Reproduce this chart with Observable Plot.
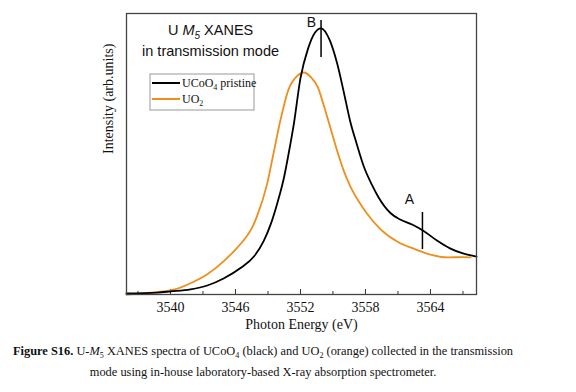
<!DOCTYPE html>
<html><head><meta charset="utf-8">
<script src="https://cdn.jsdelivr.net/npm/d3@7"></script>
<script src="https://cdn.jsdelivr.net/npm/@observablehq/plot@0.6"></script>
<style>
body{margin:0;background:#fff;}
#chart{width:576px;}
.caption{font-family:"Liberation Serif","Times New Roman",serif;font-size:12.4px;text-align:center;line-height:21px;margin-top:3px;color:#111;width:526px;}
.caption sub{font-size:8px;line-height:0;}
</style></head><body>
<div id="chart"></div>
<div class="caption"><b>Figure S16.</b> U-<i>M</i><sub>5</sub> XANES spectra of UCoO<sub>4</sub> (black) and UO<sub>2</sub> (orange) collected in the transmission<br>mode using in-house laboratory-based X-ray absorption spectrometer.</div>
<script>
// UCoO4 pristine (black)
const energyBlack = [3535.94, 3538.8, 3540.0, 3541.85, 3543.4, 3544.9, 3546.5, 3547.7, 3548.6, 3549.3, 3549.9, 3550.5, 3550.9, 3551.4, 3552.0, 3552.7, 3553.3, 3553.9, 3554.7, 3555.4, 3556.0, 3556.6, 3557.2, 3557.9, 3558.6, 3559.2, 3560.3, 3561.2, 3562.3, 3563.3, 3564.6, 3565.8, 3567.0, 3568.25];
const intensityBlack = [0.004, 0.007, 0.011, 0.018, 0.032, 0.057, 0.095, 0.135, 0.19, 0.255, 0.33, 0.42, 0.50, 0.61, 0.77, 0.875, 0.93, 0.947, 0.905, 0.82, 0.72, 0.615, 0.535, 0.45, 0.39, 0.346, 0.29, 0.267, 0.249, 0.228, 0.192, 0.164, 0.146, 0.135];
// UO2 (orange)
const energyOrange = [3535.94, 3538.0, 3540.3, 3541.85, 3543.4, 3544.9, 3546.0, 3546.9, 3547.5, 3548.0, 3548.9, 3549.5, 3550.15, 3550.9, 3551.7, 3552.3, 3553.0, 3553.6, 3554.1, 3554.6, 3555.4, 3556.0, 3556.6, 3557.4, 3558.1, 3559.4, 3561.0, 3562.4, 3564.0, 3565.6, 3567.0, 3567.7];
const intensityOrange = [0.0, 0.006, 0.017, 0.040, 0.072, 0.118, 0.16, 0.20, 0.235, 0.28, 0.39, 0.50, 0.62, 0.73, 0.778, 0.79, 0.772, 0.738, 0.68, 0.615, 0.51, 0.44, 0.385, 0.33, 0.29, 0.232, 0.187, 0.164, 0.142, 0.132, 0.133, 0.132];
// axis ticks
const xTicks = [3540, 3546, 3552, 3558, 3564];
const xMinorTicks = [3537, 3543, 3549, 3555, 3561, 3567];
// feature markers
const markerLabels = ["B", "A"];
const markerEnergy = [3553.9, 3563.26];
const markerLow = [0.843, 0.16];
const markerHigh = [0.975, 0.292];
const markerLabelEnergy = [3553.0, 3562.05];
const markerLabelValue = [0.968, 0.338];
// title annotation
const titleLines = ["U M5 XANES", "in transmission mode"];
const titleEnergy = [3543.7, 3543.7];
const titleValue = [0.94, 0.865];
// legend
const seriesNames = ["UCoO4 pristine", "UO2"];
const seriesColors = ["#000000", "#ee8f1c"];

const blackData = energyBlack.map((e, i) => ({energy: e, intensity: intensityBlack[i]}));
const orangeData = energyOrange.map((e, i) => ({energy: e, intensity: intensityOrange[i]}));
const markers = markerLabels.map((l, i) => ({label: l, energy: markerEnergy[i], low: markerLow[i], high: markerHigh[i], le: markerLabelEnergy[i], lv: markerLabelValue[i]}));
const titles = titleLines.map((t, i) => ({text: t, energy: titleEnergy[i], value: titleValue[i]}));

const serif = '"Liberation Serif","Times New Roman",serif';
const sans = '"Liberation Sans",Arial,sans-serif';

const chart = Plot.plot({
  width: 576, height: 338,
  marginLeft: 126, marginRight: 100, marginTop: 13, marginBottom: 44,
  style: {fontFamily: serif, fontSize: "14px", color: "#111", background: "white"},
  x: {domain: [3535.94, 3568.25], axis: null},
  y: {domain: [0, 1], axis: null},
  marks: [
    Plot.ruleX(xMinorTicks, {x: d => d, insetTop: 278, stroke: "#333"}),
    Plot.ruleX(xTicks, {x: d => d, insetTop: 276, stroke: "#333"}),
    Plot.axisX({ticks: xTicks, tickSize: 0, tickPadding: 8, fontSize: 14, tickFormat: d => String(d), fill: "#111"}),
    Plot.text(["Photon Energy (eV)"], {frameAnchor: "bottom", dy: 34, fontSize: 14, fill: "#111"}),
    Plot.text(["Intensity (arb.units)"], {frameAnchor: "left", rotate: -90, dx: -18, fontSize: 14, fill: "#111"}),
    Plot.line(orangeData, {x: "energy", y: "intensity", stroke: seriesColors[1], strokeWidth: 1.8, curve: "monotone-x"}),
    Plot.line(blackData, {x: "energy", y: "intensity", stroke: seriesColors[0], strokeWidth: 1.8, curve: "monotone-x"}),
    Plot.ruleX(markers, {x: "energy", y1: "low", y2: "high", stroke: "#000", strokeWidth: 1.5}),
    Plot.text(markers, {x: "le", y: "lv", text: "label", fontFamily: sans, fontSize: 14, fill: "#111"}),
    Plot.text(titles, {x: "energy", y: "value", text: "text", fontFamily: sans, fontSize: 14.5, fill: "#111"}),
    Plot.frame({stroke: "#444", strokeWidth: 1.3})
  ]
});
document.getElementById("chart").appendChild(chart);

const svg = d3.select(chart);
svg.selectAll("text").each(function() {
  if (this.textContent === "U M5 XANES") {
    const t = d3.select(this).text(null);
    t.append("tspan").text("U ");
    t.append("tspan").attr("font-style", "italic").text("M");
    t.append("tspan").attr("font-style", "italic").attr("font-size", 10).attr("dy", 4).text("5");
    t.append("tspan").attr("dy", -4).text(" XANES");
  }
});

// legend inside the frame
const lg = svg.append("g").attr("font-family", serif).attr("font-size", 12).attr("fill", "#111").attr("text-anchor", "start");
lg.append("rect").attr("x", 150).attr("y", 74).attr("width", 104).attr("height", 36)
  .attr("fill", "white").attr("stroke", "#999").attr("stroke-width", 1);
seriesNames.forEach((name, i) => {
  const yy = 83 + i * 16;
  lg.append("line").attr("x1", 152).attr("x2", 180).attr("y1", yy).attr("y2", yy)
    .attr("stroke", seriesColors[i]).attr("stroke-width", 2);
  const t = lg.append("text").attr("x", 182).attr("y", yy + 4).attr("text-anchor", "start");
  const m = name.match(/^(U(?:CoO)?O?)(\d)(.*)$/);
  t.append("tspan").text(m[1]);
  t.append("tspan").attr("font-size", 8).attr("dy", 3).text(m[2]);
  t.append("tspan").attr("dy", -3).text(m[3]);
});
</script>
</body></html>
